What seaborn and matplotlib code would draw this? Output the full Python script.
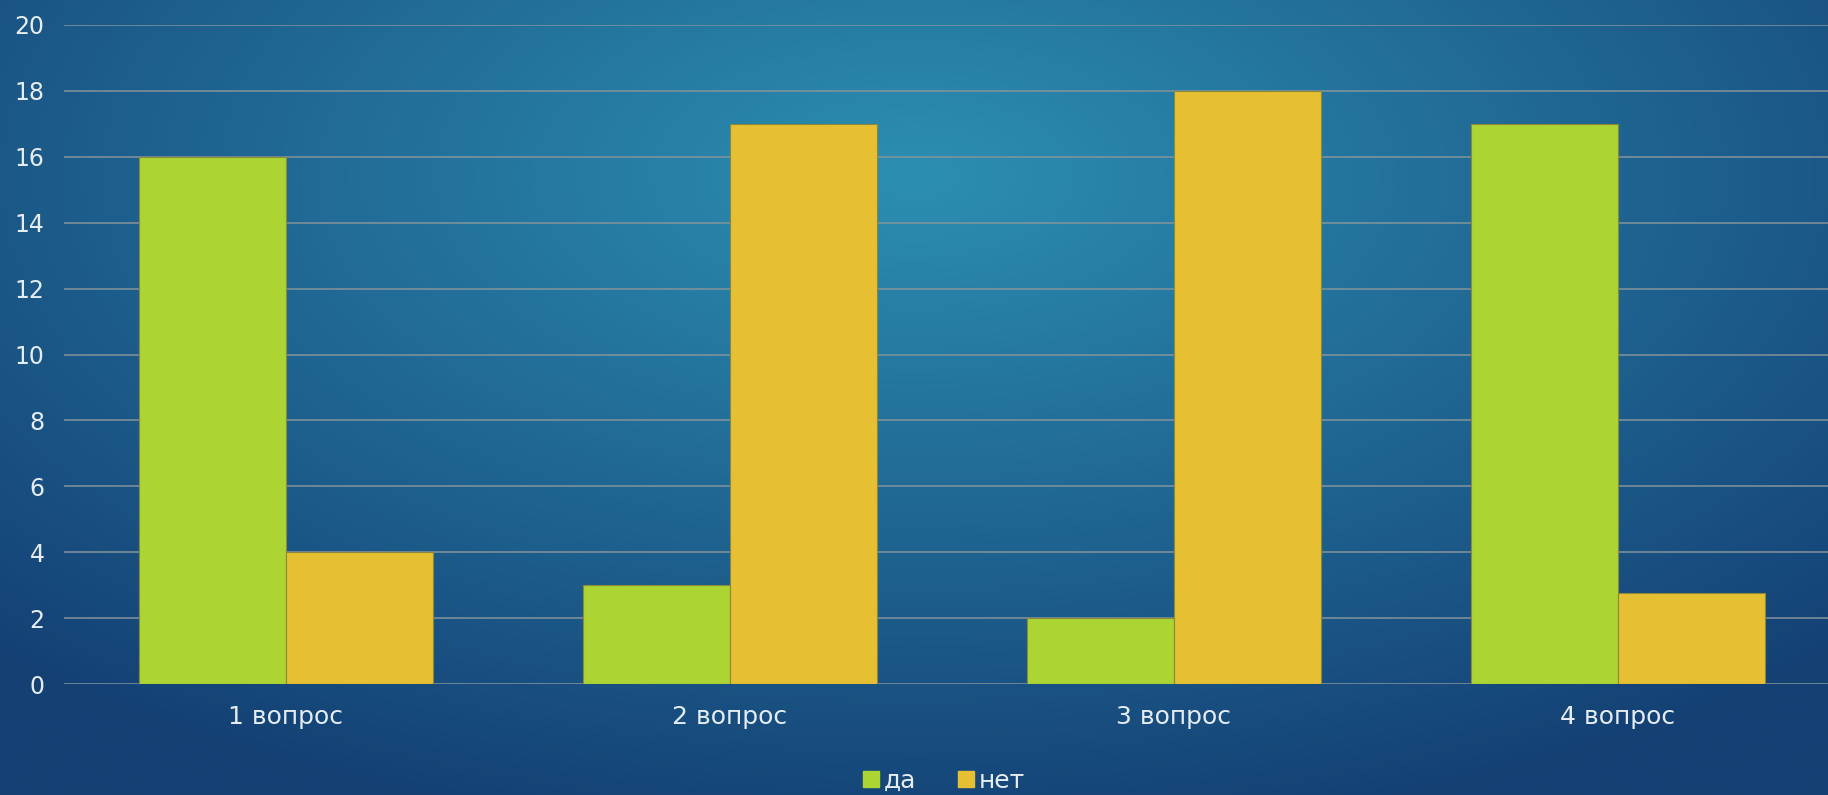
import numpy as np
import pandas as pd
import matplotlib
matplotlib.use("Agg")
import matplotlib.pyplot as plt
from matplotlib.lines import Line2D
import seaborn as sns

categories = ["1 вопрос", "2 вопрос", "3 вопрос", "4 вопрос"]
series_names = ["да", "нет"]
da_values = [16, 3, 2, 17]
net_values = [4, 17, 18, 2.75]
y_ticks = [0, 2, 4, 6, 8, 10, 12, 14, 16, 18, 20]

colors = {"да": "#acd432", "нет": "#e6bf33"}
text_color = "#e6edf2"

df = pd.DataFrame({
    "q": categories * 2,
    "ans": [series_names[0]] * 4 + [series_names[1]] * 4,
    "v": da_values + net_values,
})

sns.set_theme(style="white")
plt.rcParams["font.family"] = ["DejaVu Sans"]

W, H = 1828, 795
fig = plt.figure(figsize=(W / 100, H / 100), dpi=100)

# background radial gradient
bg = fig.add_axes([0, 0, 1, 1], zorder=0)
yy, xx = np.mgrid[0:1:400j, 0:1:900j]
d = np.sqrt(((xx - 0.5) / 0.72) ** 2 + ((yy - 0.22) / 0.85) ** 2)
d = np.clip(d, 0, 1)
c_in = np.array([44, 143, 178]) / 255
c_out = np.array([20, 64, 116]) / 255
img = c_in[None, None, :] * (1 - d[..., None]) + c_out[None, None, :] * d[..., None]
bg.imshow(img, extent=[0, 1, 0, 1], aspect="auto", origin="upper")
bg.axis("off")

ax = fig.add_axes([64 / W, 1 - 684 / H, 1776 / W, (684 - 25) / H], zorder=1)
ax.patch.set_alpha(0)

sns.barplot(data=df, x="q", y="v", hue="ans", palette=colors, width=0.66,
            saturation=1, ax=ax, edgecolor="#8a8a3a", linewidth=0.8,
            zorder=3, legend=False)

ax.set_xlim(-0.5, 3.5)
ax.set_ylim(0, 20)
ax.set_yticks(y_ticks)
ax.yaxis.grid(True, color="#84949c", linewidth=1.1, zorder=0)
ax.set_axisbelow(True)
for s in ax.spines.values():
    s.set_visible(False)
ax.set_xlabel("")
ax.set_ylabel("")
ax.tick_params(axis="y", length=0, pad=14, labelsize=17, labelcolor=text_color)
ax.tick_params(axis="x", length=0, pad=15, labelsize=18, labelcolor=text_color)

handles = [Line2D([], [], marker="s", linestyle="none", markersize=12,
                  markerfacecolor=colors[n], markeredgecolor=colors[n]) for n in series_names]
leg = fig.legend(handles, series_names, loc="center", bbox_to_anchor=(943 / W, 1 - 781 / H),
                 ncol=2, frameon=False, fontsize=18, handletextpad=0.1, columnspacing=1.6,
                 handlelength=0.8)
for t in leg.get_texts():
    t.set_color(text_color)

fig.savefig("out.png", dpi=100)
